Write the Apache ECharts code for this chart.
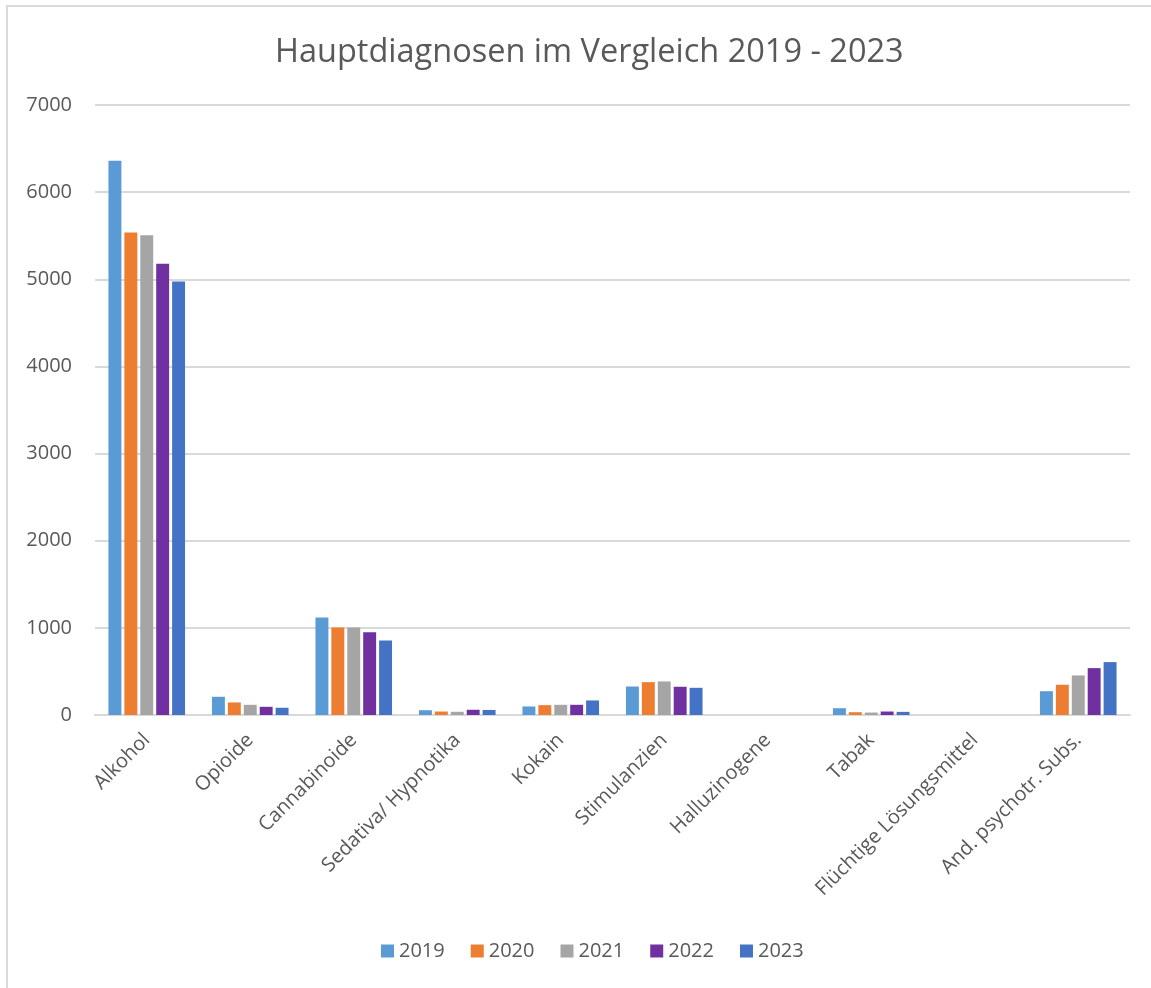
<!DOCTYPE html>
<html>
<head>
<meta charset="utf-8">
<script src="https://cdn.jsdelivr.net/npm/echarts@6/dist/echarts.min.js"></script>
<style>
  html, body { margin: 0; padding: 0; background: #fff; }
  #frame { position: absolute; left: 6px; top: 5px; width: 1160px; height: 1000px; border: 2px solid #d9d9d9; box-sizing: border-box; }
  #chart { position: absolute; left: 0; top: 0; width: 1151px; height: 988px; }
</style>
</head>
<body>
<div id="frame"></div>
<div id="chart"></div>
<script>
const categories = ['Alkohol', 'Opioide', 'Cannabinoide', 'Sedativa/ Hypnotika', 'Kokain', 'Stimulanzien', 'Halluzinogene', 'Tabak', 'Flüchtige Lösungsmittel', 'And. psychotr. Subs.'];
const years = ['2019', '2020', '2021', '2022', '2023'];
const colors = ['#5B9BD5', '#ED7D31', '#A5A5A5', '#7030A0', '#4472C4'];

const v2019 = [6360, 209, 1120, 55, 98, 327, 0, 78, 0, 273];
const v2020 = [5538, 144, 1005, 40, 113, 377, 0, 32, 0, 347];
const v2021 = [5504, 117, 1005, 37, 117, 385, 0, 28, 0, 454];
const v2022 = [5178, 94, 951, 60, 117, 324, 0, 40, 0, 538];
const v2023 = [4975, 83, 856, 58, 167, 312, 0, 36, 0, 607];
const values = [v2019, v2020, v2021, v2022, v2023];

const textColor = '#595959';
const font = 'Open Sans';

const chart = echarts.init(document.getElementById('chart'), null, { renderer: 'canvas' });

chart.setOption({
  animation: false,
  title: {
    text: 'Hauptdiagnosen im Vergleich 2019 - 2023',
    left: 270,
    top: 31,
    textStyle: { color: textColor, fontSize: 32.5, fontWeight: 'normal', fontFamily: font }
  },
  legend: {
    bottom: 22,
    left: 376,
    icon: 'rect',
    itemWidth: 13,
    itemHeight: 13,
    itemGap: 26,
    textStyle: { color: textColor, fontSize: 20, fontFamily: font }
  },
  grid: { left: 95, right: 21, top: 105, bottom: 273, containLabel: false },
  xAxis: {
    type: 'category',
    data: categories,
    axisTick: { show: false },
    axisLine: { show: true, lineStyle: { color: '#d9d9d9', width: 2 } },
    axisLabel: { rotate: 45, interval: 0, margin: 22, color: textColor, fontSize: 20, fontFamily: font }
  },
  yAxis: {
    type: 'value',
    min: 0,
    max: 7000,
    interval: 1000,
    axisLine: { show: false },
    axisTick: { show: false },
    axisLabel: { margin: 23, color: textColor, fontSize: 20, fontFamily: font, formatter: (v) => String(v) },
    splitLine: { lineStyle: { color: '#d9d9d9', width: 2 } }
  },
  series: years.map((y, i) => ({
    name: y,
    type: 'bar',
    data: values[i],
    barGap: '23%',
    barCategoryGap: '26%',
    itemStyle: { color: colors[i] }
  }))
});
</script>
</body>
</html>
